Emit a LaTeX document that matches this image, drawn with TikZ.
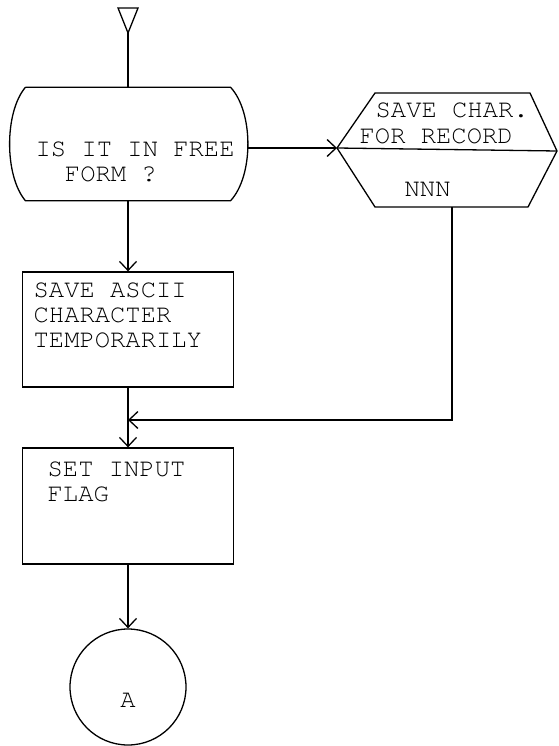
\documentclass[tikz,border=0pt]{standalone}
\usepackage[T1]{fontenc}
\usepackage{courier}
\usetikzlibrary{arrows.meta, calc}

\begin{document}
\begin{tikzpicture}[x=1pt, y=-1pt, line width=1.3pt,
    flow/.style={-{Straight Barb[length=9pt, width=17pt]}},
    procbox/.style={draw, minimum width=211pt, minimum height=115pt, inner sep=0pt},
    txt/.style={font=\ttfamily\fontsize{25.5}{25}\selectfont, anchor=base west, inner sep=0pt, align=left}]

    \useasboundingbox (0,0) rectangle (558,746);

    % --- Coordinates ---
    % Entry marker
    \coordinate (entry) at (128, 33);
    % Preparation (hexagon) corners
    \coordinate (recL) at (337, 148);
    \coordinate (recR) at (557, 151);
    \coordinate (recB) at (452, 207);
    % Right bulge of the decision
    \coordinate (freeR) at (247, 148);
    % Merge point on the main line
    \coordinate (merge) at (128, 420);

    % --- Entry triangle ---
    \draw (118, 8) -- (138, 8) -- (entry) -- cycle;

    % --- Decision ---
    \node[minimum width=204pt, minimum height=112pt, inner sep=0pt] (free) at (128, 144) {};
    \draw (free.north west) -- (free.north east)
        .. controls ($(free.north east)+(23,25)$) and ($(free.south east)+(23,-25)$) .. (free.south east)
        -- (free.south west)
        .. controls ($(free.south west)+(-21,-25)$) and ($(free.north west)+(-21,25)$) .. (free.north west);
    \node[txt] (t1) at (35, 182) {IS IT IN FREE\\\hspace*{1.15em}FORM ?};

    % --- Preparation ---
    \draw (375, 93) -- (530, 93) -- (recR) -- (528, 207) -- (375, 207) -- (recL) -- cycle;
    \draw (recL) -- (recR);
    \node[txt] (t2) at (375, 118) {SAVE CHAR.};
    \node[txt] (t3) at (359, 144) {FOR RECORD};
    \node[txt] (t4) at (404, 196) {NNN};

    % --- Process boxes ---
    \node[procbox] (ascii) at (128, 329.5) {};
    \node[txt] (t5) at (33, 347) {SAVE ASCII\\CHARACTER\\TEMPORARILY};

    \node[procbox, minimum height=116pt] (flag) at (128, 506) {};
    \node[txt] (t6) at (47, 501) {SET INPUT\\FLAG};

    % --- Connector ---
    \node[draw, circle, minimum size=116pt, inner sep=0pt] (conn) at (128, 687) {};
    \node[txt, anchor=center] (t7) at (128, 700) {A};

    % --- Flow lines ---
    \draw (entry) -- (free.north);
    \draw[flow] (freeR) -- (recL);
    \draw[flow] (free.south) -- (ascii.north);
    \draw[flow] (ascii.south) -- (flag.north);
    \draw[flow] (recB) |- (merge);
    \draw[flow] (flag.south) -- (conn.north);

\end{tikzpicture}
\end{document}
